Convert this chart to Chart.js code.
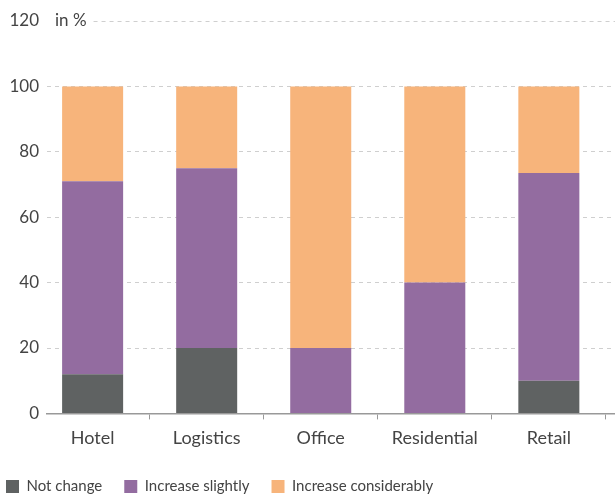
<!DOCTYPE html>
<html>
<head>
<meta charset="utf-8">
<script src="https://cdn.jsdelivr.net/npm/chart.js@4"></script>
<style>
  html, body { margin: 0; padding: 0; background: #fff; }
  #wrap { width: 615px; height: 497px; }
</style>
</head>
<body>
<div id="wrap"><canvas id="outlookChart"></canvas></div>
<script>
// Expected change per sector, in %
const sectors = ['Hotel', 'Logistics', 'Office', 'Residential', 'Retail'];
const notChange = [12, 20, 0, 0, 10];
const increaseSlightly = [59, 55, 20, 40, 63.5];
const increaseConsiderably = [29, 25, 80, 60, 26.5];
const yTicks = [0, 20, 40, 60, 80, 100, 120];

const FONT = 'Lato, "Open Sans", sans-serif';
const TEXT = '#444';

// top grid line is drawn by hand so the unit label can sit in front of it
const unitLabel = {
    id: 'unitLabel',
    afterLayout(chart) {
        // pull the legend closer to the left edge
        chart.legend.left -= 16;
        chart.legend.right -= 16;
    },
    beforeDatasetsDraw(chart) {
        const { ctx, chartArea } = chart;
        const y = chart.scales.y.getPixelForValue(120);
        ctx.save();
        ctx.font = '17px ' + FONT;
        ctx.fillStyle = TEXT;
        ctx.textBaseline = 'middle';
        const x0 = chartArea.left + 8;
        ctx.fillText('in %', x0, y);
        const w = ctx.measureText('in %').width;
        ctx.strokeStyle = '#cfcfcf';
        ctx.lineWidth = 1;
        ctx.setLineDash([4, 4]);
        ctx.beginPath();
        ctx.moveTo(x0 + w + 7, y + 0.5);
        ctx.lineTo(chartArea.right, y + 0.5);
        ctx.stroke();
        ctx.restore();
    }
};

const ctx = document.getElementById('outlookChart').getContext('2d');
new Chart(ctx, {
    type: 'bar',
    data: {
        labels: sectors.map((s, i) => i),
        datasets: [
            { label: 'Not change', data: notChange, backgroundColor: '#5f6262' },
            { label: 'Increase slightly', data: increaseSlightly, backgroundColor: '#936ca0' },
            { label: 'Increase considerably', data: increaseConsiderably, backgroundColor: '#f7b47b' }
        ]
    },
    options: {
        responsive: true,
        maintainAspectRatio: false,
        animation: false,
        layout: { padding: { top: 21, right: 0, left: 0, bottom: -7 } },
        datasets: {
            bar: { categoryPercentage: 1, barPercentage: 0.535, borderWidth: 0 }
        },
        plugins: {
            tooltip: { enabled: false },
            legend: {
                position: 'bottom',
                align: 'start',
                labels: {
                    boxWidth: 13,
                    boxHeight: 13,
                    padding: 22,
                    color: TEXT,
                    font: { family: FONT, size: 15 }
                }
            }
        },
        scales: {
            x: {
                type: 'linear',
                stacked: true,
                offset: false,
                min: -0.4,
                max: 4.58,
                afterBuildTicks: scale => {
                    scale.ticks = sectors.map((s, i) => ({ value: i }));
                },
                ticks: {
                    callback: v => sectors[v],
                    color: TEXT,
                    padding: 8,
                    font: { family: FONT, size: 18 }
                },
                grid: {
                    offset: true,
                    drawOnChartArea: false,
                    tickLength: 6,
                    color: '#999'
                },
                border: { color: '#999', width: 1.5 }
            },
            y: {
                stacked: true,
                min: 0,
                max: 120,
                afterBuildTicks: scale => {
                    scale.ticks = yTicks.map(v => ({ value: v }));
                },
                afterFit: scale => { scale.width = 47; },
                ticks: {
                    color: TEXT,
                    padding: 8,
                    font: { family: FONT, size: 17 }
                },
                grid: {
                    drawTicks: false,
                    color: c => (c.tick.value === 0 || c.tick.value === 120) ? 'rgba(0,0,0,0)' : '#cfcfcf'
                },
                border: { display: false, dash: [4, 4] }
            }
        }
    },
    plugins: [unitLabel]
});
</script>
</body>
</html>
